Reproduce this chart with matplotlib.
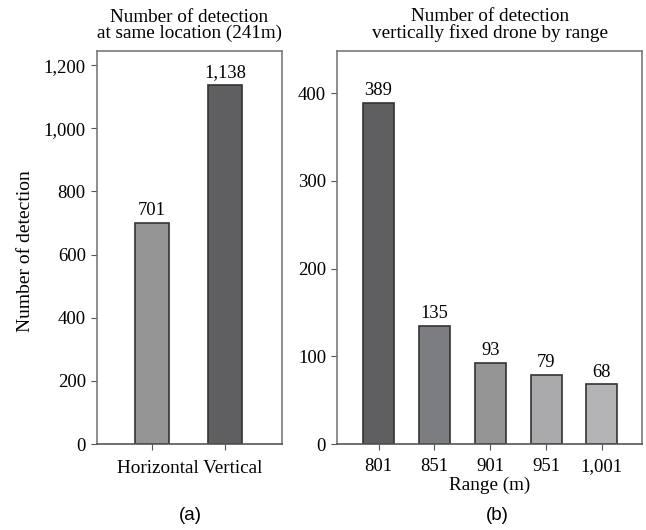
import matplotlib.pyplot as plt

# panel (a)
orient_labels = ["Horizontal", "Vertical"]
orient_counts = [701, 1138]
orient_colors = ["#959596", "#5f5f61"]

# panel (b)
range_labels = ["801", "851", "901", "951", "1,001"]
range_counts = [389, 135, 93, 79, 68]
range_colors = ["#5f5f61", "#7c7d80", "#959596", "#aaaaac", "#b4b4b6"]

plt.rcParams['font.family'] = ['Liberation Serif', 'DejaVu Serif']
plt.rcParams['font.size'] = 13.5

fig = plt.figure(figsize=(6.46, 5.30), dpi=100)
ax1 = fig.add_axes([0.150, 0.162, 0.286, 0.742])
ax2 = fig.add_axes([0.522, 0.162, 0.472, 0.742])


def style(ax):
    for s in ["top", "right", "left"]:
        ax.spines[s].set_color("#7a7a7a")
        ax.spines[s].set_linewidth(1.2)
    ax.spines["bottom"].set_color("#555555")
    ax.spines["bottom"].set_linewidth(1.2)
    ax.tick_params(axis="both", direction="out", length=4, color="#555555",
                   labelsize=13.5)
    ax.tick_params(axis="x", pad=6)
    ax.tick_params(axis="y", pad=4)


x1 = range(len(orient_labels))
bars = ax1.bar(x1, orient_counts, width=0.46, color=orient_colors,
               edgecolor="#333333", linewidth=1.2)
for b, v in zip(bars, orient_counts):
    ax1.text(b.get_x() + b.get_width() / 2, v + 12, f"{v:,}",
             ha="center", va="bottom", fontsize=13.3)
ax1.set_xlim(-0.74, 1.76)
ax1.set_ylim(0, 1245)
ax1.set_yticks(range(0, 1201, 200))
ax1.set_yticklabels([f"{t:,}" for t in range(0, 1201, 200)])
ax1.set_xticks(list(x1))
ax1.set_xticklabels(["", ""])
ax1.text(0.5, -0.041, " ".join(orient_labels), transform=ax1.transAxes,
         ha="center", va="top", fontsize=13.8)
ax1.set_ylabel("Number of detection", fontsize=14)
ax1.yaxis.set_label_coords(-0.34, 0.49)
ax1.set_title("Number of detection\nat same location (241m)", fontsize=13.8,
              linespacing=0.95, pad=9)
style(ax1)

x2 = range(len(range_labels))
bars = ax2.bar(x2, range_counts, width=0.555, color=range_colors,
               edgecolor="#333333", linewidth=1.2)
for b, v in zip(bars, range_counts):
    ax2.text(b.get_x() + b.get_width() / 2, v + 4, f"{v:,}",
             ha="center", va="bottom", fontsize=13.3)
ax2.set_xlim(-0.74, 4.72)
ax2.set_ylim(0, 448)
ax2.set_yticks(range(0, 401, 100))
ax2.set_xticks(list(x2))
ax2.set_xticklabels(range_labels)
ax2.set_xlabel("Range (m)", fontsize=13.8, labelpad=1)
ax2.set_title("Number of detection\nvertically fixed drone by range",
              fontsize=13.8, linespacing=0.95, pad=9)
style(ax2)

fig.text(190 / 646, 1 - 515 / 530, "(a)", ha="center", va="center",
         fontsize=13.5, family="Liberation Sans")
fig.text(497 / 646, 1 - 515 / 530, "(b)", ha="center", va="center",
         fontsize=13.5, family="Liberation Sans")

fig.savefig("out.png", dpi=100)
